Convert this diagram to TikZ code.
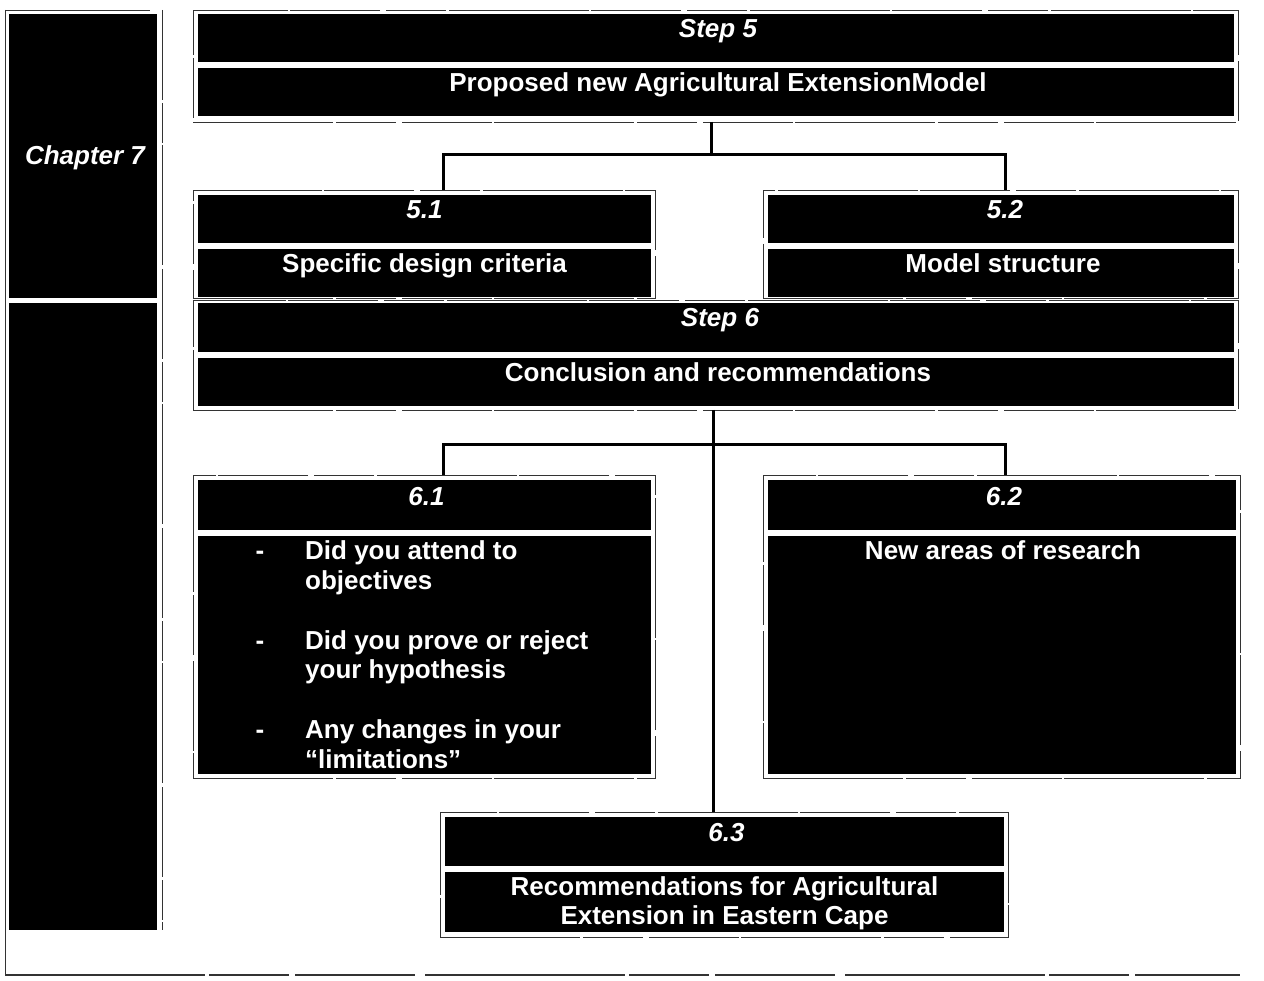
\documentclass[tikz,border=0pt]{standalone}
\usepackage{fontspec}
\setmainfont{Liberation Sans}
\usetikzlibrary{calc}
\begin{document}
\begin{tikzpicture}[x=1pt,y=-1pt,
  bar/.style={fill=black, draw=none, inner sep=0pt, outer sep=0pt, anchor=north west},
  frm/.style={draw=black!80, line width=0.9pt,
    dash pattern=on 140pt off 3pt on 60pt off 6pt on 90pt off 2pt,
    inner sep=0pt, outer sep=0pt, anchor=north west},
  rule/.style={draw=black!80, line width=0.9pt},
  head/.style={text=white, font=\fontsize{26}{30}\selectfont\bfseries\itshape, anchor=base, inner sep=0pt},
  body/.style={text=white, font=\fontsize{26}{30}\selectfont\bfseries, anchor=base, inner sep=0pt},
  item/.style={body, anchor=base west},
  conn/.style={line width=3pt, black}
]
\useasboundingbox (0,0) rectangle (1264,981);

% page rules on the left and bottom
\draw[rule] (5,10) -- (5,975);
\draw[rule, line width=1.6pt, dash pattern=on 200pt off 4pt on 80pt off 6pt on 120pt off 10pt] (5,975) -- (1240,975);
\draw[rule] (5,10) -- (150,10);
\draw[rule, dash pattern=on 90pt off 3pt on 40pt off 2pt on 120pt off 4pt] (162,10) -- (162,930);

% chapter column
\node[bar, minimum width=148pt, minimum height=284pt] (c7a) at (9,14) {};
\node[bar, minimum width=148pt, minimum height=627pt] (c7b) at (9,303) {};
\node[head] (tc7) at ($(c7a.north)+(2,151)$) {Chapter 7};

% step 5
\node[frm, minimum width=1045pt, minimum height=112pt] (f5) at (193,10) {};
\node[bar, minimum width=1036pt, minimum height=48pt] (b5a) at (198,14) {};
\node[bar, minimum width=1036pt, minimum height=48pt] (b5b) at (198,68) {};
\node[head] (t5a) at ($(b5a.north)+(2,24)$) {Step 5};
\node[body] (t5b) at ($(b5b.north)+(2,24)$) {Proposed new Agricultural ExtensionModel};

% 5.1 and 5.2
\node[frm, minimum width=462pt, minimum height=108pt] (f51) at (193,190) {};
\node[bar, minimum width=453pt, minimum height=48pt] (b51a) at (198,195) {};
\node[bar, minimum width=453pt, minimum height=48pt] (b51b) at (198,249) {};
\node[head] (t51a) at ($(b51a.north)+(0,24)$) {5.1};
\node[body] (t51b) at ($(b51b.north)+(0,24)$) {Specific design criteria};

\node[frm, minimum width=475pt, minimum height=108pt] (f52) at (763,190) {};
\node[bar, minimum width=466pt, minimum height=48pt] (b52a) at (768,195) {};
\node[bar, minimum width=466pt, minimum height=48pt] (b52b) at (768,249) {};
\node[head] (t52a) at ($(b52a.north)+(4,24)$) {5.2};
\node[body] (t52b) at ($(b52b.north)+(2,24)$) {Model structure};

% step 6
\node[frm, minimum width=1045pt, minimum height=110pt] (f6) at (193,300) {};
\node[bar, minimum width=1036pt, minimum height=49pt] (b6a) at (198,303) {};
\node[bar, minimum width=1036pt, minimum height=48pt] (b6b) at (198,358) {};
\node[head] (t6a) at ($(b6a.north)+(4,24)$) {Step 6};
\node[body] (t6b) at ($(b6b.north)+(2,24)$) {Conclusion and recommendations};

% 6.1
\node[frm, minimum width=462pt, minimum height=303pt] (f61) at (193,475) {};
\node[bar, minimum width=453pt, minimum height=50pt] (b61a) at (198,480) {};
\node[bar, minimum width=453pt, minimum height=238pt] (b61b) at (198,536) {};
\node[head] (t61a) at ($(b61a.north)+(2,25)$) {6.1};
\node[body] (d1) at (260,559) {-};
\node[body] (d2) at (260,649) {-};
\node[body] (d3) at (260,738) {-};
\node[item] (i1a) at (305,559) {Did you attend to};
\node[item] (i1b) at (305,589) {objectives};
\node[item] (i2a) at (305,649) {Did you prove or reject};
\node[item] (i2b) at (305,678) {your hypothesis};
\node[item] (i3a) at (305,738) {Any changes in your};
\node[item] (i3b) at (305,768) {``limitations''};

% 6.2
\node[frm, minimum width=477pt, minimum height=303pt] (f62) at (763,475) {};
\node[bar, minimum width=468pt, minimum height=50pt] (b62a) at (768,480) {};
\node[bar, minimum width=468pt, minimum height=238pt] (b62b) at (768,536) {};
\node[head] (t62a) at ($(b62a.north)+(2,25)$) {6.2};
\node[body] (t62b) at ($(b62b.north)+(1,23)$) {New areas of research};

% 6.3
\node[frm, minimum width=568pt, minimum height=125pt] (f63) at (440,812) {};
\node[bar, minimum width=559pt, minimum height=49pt] (b63a) at (445,817) {};
\node[bar, minimum width=559pt, minimum height=60pt] (b63b) at (445,872) {};
\node[head] (t63a) at ($(b63a.north)+(2,24)$) {6.3};
\node[body] (t63b) at ($(b63b.north)+(0,23)$) {Recommendations for Agricultural};
\node[body] (t63c) at ($(b63b.north)+(0,52)$) {Extension in Eastern Cape};

% connectors
\coordinate (h5) at (711,155);
\draw[conn] ([xshift=-4.5pt]f5.south) -- (h5);
\draw[conn] ([xshift=19pt]f51.north) |- (h5) -| ([xshift=4.5pt]f52.north);

\coordinate (h6) at (713,445);
\draw[conn] ([xshift=-2.5pt]f6.south) -- ([xshift=-11pt]f63.north);
\draw[conn] ([xshift=19pt]f61.north) |- (h6) -| ([xshift=3.5pt]f62.north);
\end{tikzpicture}
\end{document}
